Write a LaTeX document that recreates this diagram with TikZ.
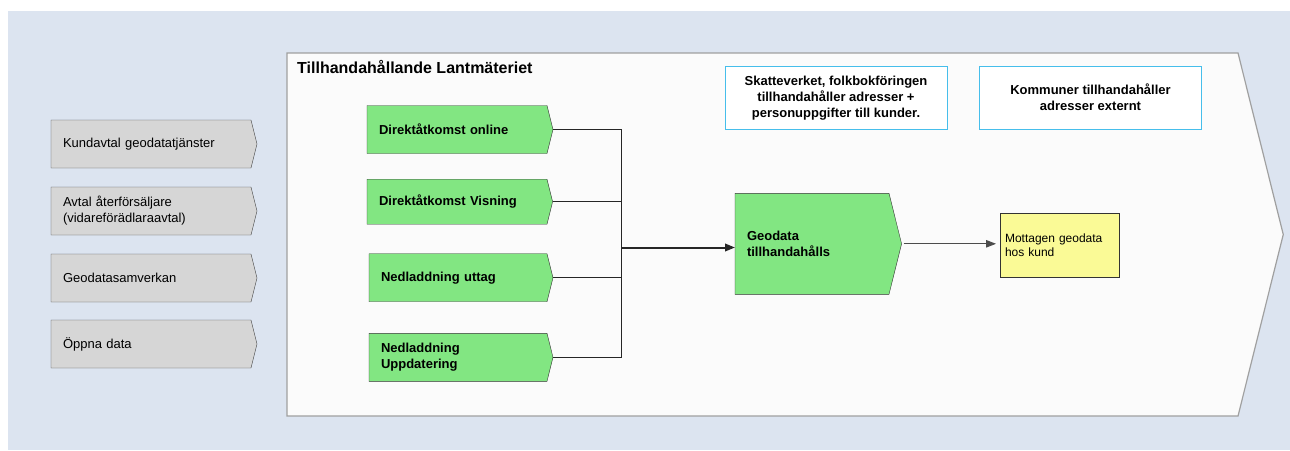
\documentclass[tikz,border=0pt]{standalone}
\usepackage{fontspec}
\setmainfont{Liberation Sans}
\usetikzlibrary{shapes.symbols}
\usetikzlibrary{arrows.meta}
\definecolor{bgblue}{RGB}{220,228,240}
\definecolor{panelfill}{RGB}{251,251,251}
\definecolor{panelline}{RGB}{160,160,160}
\definecolor{grayfill}{RGB}{214,214,214}
\definecolor{greenfill}{RGB}{130,230,130}
\definecolor{yellowfill}{RGB}{250,250,150}
\definecolor{cyanline}{RGB}{70,190,235}
\tikzset{chev/.style={shape=signal,signal to=east,signal pointer angle=152,outer sep=0pt,inner ysep=0pt,inner xsep=12pt,align=left,font=\fontsize{13}{16}\selectfont}}
\tikzset{grayp/.style={chev,fill=grayfill,draw=black!70,minimum height=48pt,text width=176pt}}
\tikzset{greenp/.style={chev,fill=greenfill,draw=black!80,minimum height=48pt,text width=#1,font=\fontsize{13}{16}\selectfont\bfseries}}
\tikzset{infop/.style={draw=cyanline,fill=white,line width=1pt,minimum width=222pt,minimum height=63pt,inner sep=0pt,align=center,font=\fontsize{13}{16}\selectfont\bfseries}}
\tikzset{conn/.style={draw=black!85,line width=0.9pt}}
\tikzset{tip/.style={-{Triangle[length=10pt,width=7.5pt]}}}

\begin{document}
\begin{tikzpicture}[x=1pt,y=-1pt]
      \useasboundingbox (0,0) rectangle (1290,450);
      \fill[bgblue] (8,11) rectangle (1290,450);

      \node[chev,fill=panelfill,draw=panelline,line width=1.2pt,inner xsep=0pt,text width=951pt,minimum height=363pt,anchor=west] (panel) at (287,234.5) {};
      \node[anchor=base west,inner sep=0pt,font=\fontsize{16}{19}\selectfont\bfseries] (title) at (297,73) {Tillhandahållande Lantmäteriet};

      \node[grayp,anchor=west] (kundavtal) at (51,144) {Kundavtal geodatatjänster};
      \node[grayp,anchor=west] (avtal) at (51,211) {Avtal återförsäljare\\(vidareförädlaraavtal)};
      \node[grayp,anchor=west] (samverkan) at (51,278) {Geodatasamverkan};
      \node[grayp,anchor=west] (oppna) at (51,344) {Öppna data};

      \node[greenp=156pt,anchor=west] (online) at (367,129.5) {Direktåtkomst online};
      \node[greenp=156pt,anchor=west,minimum height=45pt] (visning) at (367,201.7) {Direktåtkomst Visning};
      \node[greenp=154pt,anchor=west] (uttag) at (369,277.7) {Nedladdning uttag};
      \node[greenp=154pt,anchor=west] (uppdatering) at (369,357.3) {Nedladdning\\Uppdatering};

      \node[greenp=130pt,anchor=west,minimum height=101pt] (geodata) at (735,243.8) {Geodata\\tillhandahålls};
      \node[draw=black!80,fill=yellowfill,outer sep=0pt,inner xsep=5pt,inner ysep=0pt,text width=109pt,minimum height=63.5pt,align=left,font=\fontsize{12}{14}\selectfont,anchor=west] (mottagen) at (1000,245) {Mottagen geodata\\hos kund};

      \node[infop] (skatteverket) at (836,97.7) {Skatteverket, folkbokföringen\\tillhandahåller adresser +\\personuppgifter till kunder.};
      \node[infop] (kommuner) at (1090.5,97.7) {Kommuner tillhandahåller\\adresser externt};

      \coordinate (junction) at (621,247.5);
      \draw[conn] (online.east) -| (junction);
      \draw[conn] (visning.east) -| (junction);
      \draw[conn] (uttag.east) -| (junction);
      \draw[conn] (uppdatering.east) -| (junction);
      \draw[conn,line width=2pt,tip] (junction) -- (junction -| geodata.west);
      \draw[conn,draw=black!70,tip,shorten <=2pt,shorten >=4pt] (geodata.east) -- (geodata.east -| mottagen.west);
\end{tikzpicture}
\end{document}
